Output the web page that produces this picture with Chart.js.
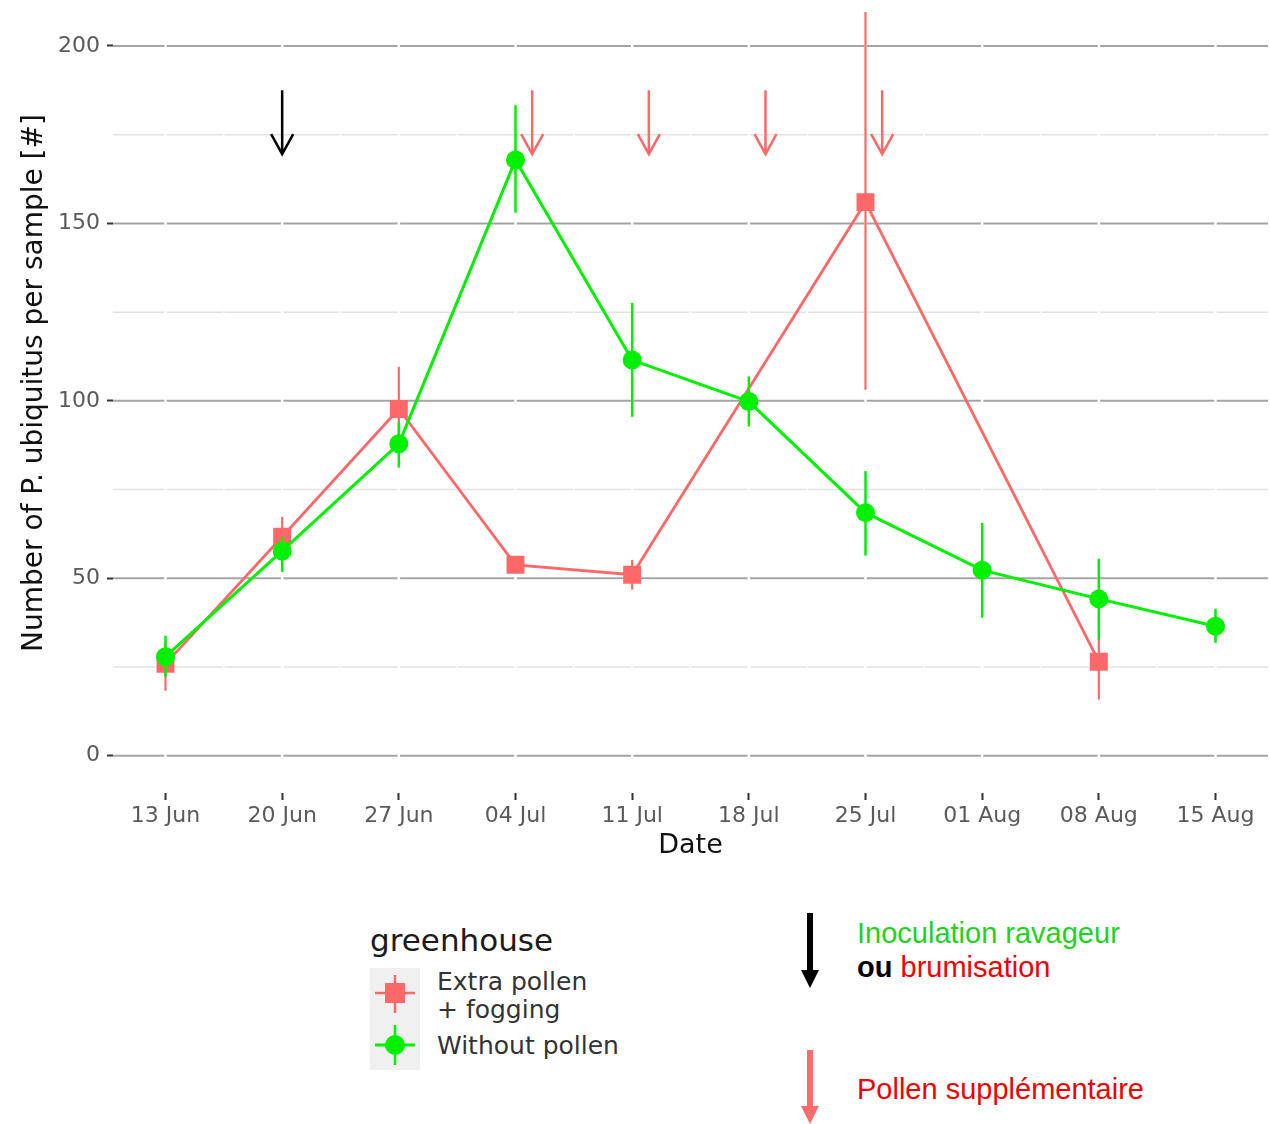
<!DOCTYPE html>
<html>
<head>
<meta charset="utf-8">
<script src="https://cdn.jsdelivr.net/npm/chart.js@4.4.1/dist/chart.umd.min.js"></script>
<style>
body{margin:0;background:#fff;width:1270px;height:1124px;position:relative;overflow:hidden;font-family:"DejaVu Sans",sans-serif}
#chart{position:absolute;left:0;top:0}
.abs{position:absolute;white-space:nowrap}
.note{font-family:"Liberation Sans",Arial,sans-serif;font-size:29px;line-height:34px}
</style>
</head>
<body>
<canvas id="chart" width="1270" height="870"></canvas>

<div class="abs" style="left:370px;top:925px;font-size:31px;line-height:31px;color:#1a1a1a">greenhouse</div>
<svg class="abs" style="left:370px;top:968px" width="50" height="102">
  <rect x="0" y="0" width="50" height="102" fill="#f0f0f0"/>
  <line x1="5" y1="25" x2="45" y2="25" stroke="#ff6868" stroke-width="2.5"/>
  <line x1="25" y1="7" x2="25" y2="45" stroke="#ff6868" stroke-width="2.5"/>
  <rect x="15" y="15" width="20" height="20" fill="#ff6868"/>
  <line x1="5" y1="77" x2="45" y2="77" stroke="#00f000" stroke-width="3"/>
  <line x1="25" y1="57" x2="25" y2="97" stroke="#00f000" stroke-width="2.5"/>
  <circle cx="25" cy="77" r="10" fill="#00f000"/>
</svg>
<div class="abs" style="left:437px;top:968px;font-size:25px;line-height:28px;color:#333">Extra pollen<br>+ fogging</div>
<div class="abs" style="left:437px;top:1032px;font-size:25px;line-height:28px;color:#333">Without pollen</div>

<svg class="abs" style="left:795px;top:905px" width="30" height="219">
  <rect x="12" y="8" width="6" height="60" fill="#000"/>
  <polygon points="6,65 24,65 15,83" fill="#000"/>
  <rect x="12" y="145" width="6" height="60" fill="#ff6b6b"/>
  <polygon points="6,201 24,201 15,219" fill="#ff6b6b"/>
</svg>
<div class="abs note" style="left:857px;top:916px"><span style="color:#1fd21f">Inoculation ravageur</span><br><b style="color:#000">ou</b> <span style="color:#f00000">brumisation</span></div>
<div class="abs note" style="left:857px;top:1072px;color:#f00000">Pollen supplémentaire</div>

<script>
// Dates (days after 13 Jun)
const dateLabels = ['13 Jun','20 Jun','27 Jun','04 Jul','11 Jul','18 Jul','25 Jul','01 Aug','08 Aug','15 Aug'];
const dayOffsets = [0,7,14,21,28,35,42,49,56,63];

// Extra pollen + fogging
const pollenMean = [25.9, 61.7, 97.7, 53.8, 51.0, null, 156.0, null, 26.5, null];
const pollenLow  = [18.3, 56.0, 86.0, 51.5, 46.8, null, 103.1, null, 15.8, null];
const pollenHigh = [32.0, 67.3, 109.6, 56.0, 55.2, null, 209.6, null, 33.2, null];

// Without pollen
const noPollenMean = [27.9, 57.7, 87.9, 167.9, 111.5, 99.8, 68.5, 52.3, 44.2, 36.5];
const noPollenLow  = [22.3, 51.8, 81.2, 153.0, 95.5, 92.8, 56.4, 38.9, 32.7, 31.8];
const noPollenHigh = [33.8, 61.7, 94.1, 183.3, 127.6, 106.9, 80.2, 65.6, 55.5, 41.4];

// Axis breaks
const yMajor = [0,50,100,150,200];
const yMinor = [25,75,125,175];

// Treatment arrows (day offsets)
const inoculationDays = [7];
const pollenDays = [22,29,36,43];
const arrowTop = 187.5, arrowTip = 169.5;

const yTitle = 'Number of P. ubiquitus per sample [#]';
const red = '#ff6868';
const green = '#00f000';

const toPoints = (vals)=>dayOffsets.map((d,i)=>({x:d,y:vals[i]})).filter(p=>p.y!==null);
const errorSets = [
  { low:noPollenLow, high:noPollenHigh, width:2.5 },
  { low:pollenLow, high:pollenHigh, width:2.2 }
];

const gridPlugin = {
  id:'ggGrid',
  beforeDatasetsDraw(chart){
    const {ctx, chartArea:a, scales:{x,y}} = chart;
    ctx.save();
    const hline=(v,color,w)=>{
      const py=y.getPixelForValue(v);
      ctx.strokeStyle=color; ctx.lineWidth=w;
      ctx.beginPath(); ctx.moveTo(a.left,py); ctx.lineTo(a.right,py); ctx.stroke();
    };
    const vline=(v,w)=>{
      const px=x.getPixelForValue(v);
      ctx.strokeStyle='#fff'; ctx.lineWidth=w;
      ctx.beginPath(); ctx.moveTo(px,a.top); ctx.lineTo(px,a.bottom); ctx.stroke();
    };
    yMinor.forEach(v=>hline(v,'#e2e2e2',1.5));
    dayOffsets.slice(1).forEach((d,i)=>vline((d+dayOffsets[i])/2,1.5));
    yMajor.forEach(v=>hline(v,'#a4a4a4',2));
    dayOffsets.forEach(v=>vline(v,2.5));
    ctx.restore();
  }
};

const errorBarPlugin = {
  id:'errorBars',
  beforeDatasetDraw(chart,args){
    const set = errorSets[args.index];
    const {ctx, scales:{x,y}} = chart;
    ctx.save();
    ctx.strokeStyle = chart.data.datasets[args.index].borderColor;
    ctx.lineWidth = set.width;
    set.low.forEach((lo,i)=>{
      if(lo===null) return;
      const px = x.getPixelForValue(dayOffsets[i]);
      ctx.beginPath();
      ctx.moveTo(px,y.getPixelForValue(lo));
      ctx.lineTo(px,y.getPixelForValue(set.high[i]));
      ctx.stroke();
    });
    ctx.restore();
  }
};

const arrowPlugin = {
  id:'arrows',
  afterDatasetsDraw(chart){
    const {ctx, scales:{x,y}} = chart;
    const draw=(d,color)=>{
      const px=x.getPixelForValue(d), y0=y.getPixelForValue(arrowTop), y1=y.getPixelForValue(arrowTip);
      ctx.strokeStyle=color; ctx.lineWidth=2.5;
      ctx.beginPath();
      ctx.moveTo(px,y0); ctx.lineTo(px,y1);
      ctx.moveTo(px-11,y1-20); ctx.lineTo(px,y1); ctx.lineTo(px+11,y1-20);
      ctx.stroke();
    };
    ctx.save();
    inoculationDays.forEach(d=>draw(d,'#000'));
    pollenDays.forEach(d=>draw(d,red));
    ctx.restore();
  }
};

// y title drawn by hand so it can sit where ggplot put it
const yTitlePlugin = {
  id:'yTitle',
  afterDraw(chart){
    const ctx = chart.ctx;
    ctx.save();
    ctx.translate(35,383);
    ctx.rotate(-Math.PI/2);
    ctx.font = '28px "DejaVu Sans"';
    ctx.fillStyle = '#111';
    ctx.textAlign = 'center';
    ctx.textBaseline = 'middle';
    ctx.fillText(yTitle,0,0);
    ctx.restore();
  }
};

const tickFont = { family:'DejaVu Sans', size:22 };
const titleFont = { family:'DejaVu Sans', size:27 };

new Chart(document.getElementById('chart').getContext('2d'), {
  type:'line',
  data:{
    datasets:[
      { label:'Without pollen', data:toPoints(noPollenMean), borderColor:green, backgroundColor:green,
        borderWidth:3, pointRadius:9.5, pointStyle:'circle', pointBorderWidth:0, tension:0, order:0 },
      { label:'Extra pollen + fogging', data:toPoints(pollenMean), borderColor:red, backgroundColor:red,
        borderWidth:2.8, pointRadius:12.7, pointStyle:'rect', pointBorderWidth:0, tension:0, order:1 }
    ]
  },
  options:{
    responsive:false,
    animation:false,
    events:[],
    layout:{ autoPadding:false, padding:{ top:10.5, right:2, left:0, bottom:0 } },
    scales:{
      x:{
        type:'linear', min:-3.15, max:66.15,
        afterBuildTicks:(s)=>{ s.ticks = dayOffsets.map(v=>({value:v})); },
        afterFit:(s)=>{ s.height = 77; s.paddingLeft=0; s.paddingRight=0; },
        ticks:{ callback:(v)=>dateLabels[dayOffsets.indexOf(v)], autoSkip:false, maxRotation:0, padding:3, color:'#5a5a5a', font:tickFont },
        grid:{ drawOnChartArea:false, drawTicks:true, tickLength:7, tickColor:'#333', tickWidth:2 },
        border:{ display:false },
        title:{ display:true, text:'Date', color:'#111', font:titleFont, padding:{ top:0, bottom:8 } }
      },
      y:{
        type:'linear', min:-10.5, max:210,
        afterBuildTicks:(s)=>{ s.ticks = yMajor.map(v=>({value:v})); },
        afterFit:(s)=>{ s.width = 113; s.paddingTop=0; s.paddingBottom=0; },
        ticks:{ padding:7, color:'#5a5a5a', font:tickFont },
        grid:{ drawOnChartArea:false, drawTicks:true, tickLength:6, tickColor:'#333', tickWidth:2 },
        border:{ display:false }
      }
    },
    plugins:{ legend:{ display:false }, tooltip:{ enabled:false } }
  },
  plugins:[gridPlugin, errorBarPlugin, arrowPlugin, yTitlePlugin]
});
</script>
</body>
</html>
